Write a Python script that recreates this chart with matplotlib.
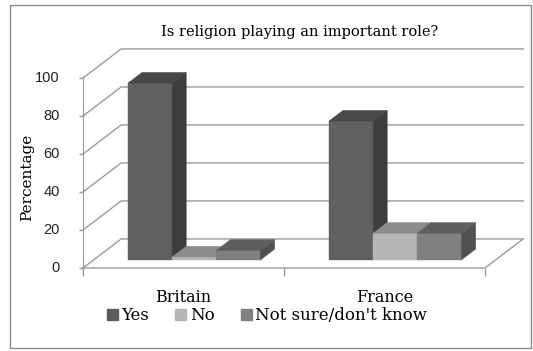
"""Is religion playing an important role? — Excel-style 3D clustered bars"""

import matplotlib
matplotlib.use("Agg")
import matplotlib.pyplot as plt
from matplotlib.patches import Polygon, Rectangle, Patch

# ── Data ────────────────────────────────────────────────────────────────────

countries = ["Britain", "France"]
series = ["Yes", "No", "Not sure/don't know"]
yes_vals = [93, 73]
no_vals = [1.5, 14]
unsure_vals = [5, 14]
y_ticks = [0, 20, 40, 60, 80, 100]

# face colours per series: front, top, side
FACES = [
    ("#606060", "#484848", "#3d3d3d"),
    ("#b5b5b5", "#8c8c8c", "#7c7c7c"),
    ("#808080", "#5e5e5e", "#505050"),
]
LEGEND_COLORS = ["#5c5c5c", "#b5b5b5", "#808080"]
GRID = "#9a9a9a"

# oblique depth of the wall, in data units (x: category, y: percent)
DX, DY = 0.19, 15.3
BAR_D0, BAR_DEPTH = 0.28, 0.37   # bar position inside the depth, as fractions
BAR_W, GAP = 0.22, 0.17

SERIF = "DejaVu Serif"
SANS = "Liberation Sans"

W, H = 533, 351
fig = plt.figure(figsize=(W / 100, H / 100), dpi=100)

# outer chart frame
fig.patches.append(Rectangle((10 / W, 1 - 348 / H), 521 / W, 343 / H,
                             transform=fig.transFigure, fill=False,
                             edgecolor="#8c8c8c", linewidth=1.0))

# front plane of the plot: x 83..485 px, y 268..78 px
AX_W, AX_H = 402, 190
ax = fig.add_axes([83 / W, 1 - 268 / H, AX_W / W, AX_H / H])
ax.set_xlim(0, 2)
ax.set_ylim(0, 100)
for s in ("top", "right", "bottom"):
    ax.spines[s].set_visible(False)
ax.spines["left"].set_color(GRID)
ax.patch.set_visible(False)

# ── walls / gridlines ───────────────────────────────────────────────────────
for v in y_ticks:
    ax.plot([0, DX, 2 + DX], [v, v + DY, v + DY], color=GRID, lw=1.0,
            clip_on=False, zorder=1)
# floor front edge and right edge
ax.plot([0, 2, 2 + DX], [0, 0, DY], color=GRID, lw=1.0, clip_on=False, zorder=1)

# ── bars ────────────────────────────────────────────────────────────────────
values = [yes_vals, no_vals, unsure_vals]
ox, oy = BAR_D0 * DX, BAR_D0 * DY
bx, by = BAR_DEPTH * DX, BAR_DEPTH * DY
for g in range(len(countries)):
    for i, vals in enumerate(values):
        v = vals[g]
        x0 = g + GAP + i * BAR_W + ox
        x1 = x0 + BAR_W
        y0 = oy
        y1 = oy + v
        front, top, side = FACES[i]
        kw = dict(clip_on=False, zorder=3 + g * 3 + i, linewidth=0.3)
        ax.add_patch(Polygon([(x0, y0), (x1, y0), (x1, y1), (x0, y1)],
                             facecolor=front, edgecolor=front, **kw))
        ax.add_patch(Polygon([(x1, y0), (x1 + bx, y0 + by), (x1 + bx, y1 + by),
                              (x1, y1)], facecolor=side, edgecolor=side, **kw))
        ax.add_patch(Polygon([(x0, y1), (x1, y1), (x1 + bx, y1 + by),
                              (x0 + bx, y1 + by)], facecolor=top, edgecolor=top, **kw))

# ── axes ticks / labels ─────────────────────────────────────────────────────
ax.set_yticks(y_ticks)
ax.set_yticklabels([])
ax.tick_params(axis="y", length=3, width=1, color=GRID)
for t in y_ticks:
    ax.text(-23 / AX_W, t, str(t), transform=ax.get_yaxis_transform(),
            ha="right", va="center", fontfamily=SANS, fontsize=10.5,
            color="#222222")

ax.set_xticks([0, 1, 2])
ax.set_xticklabels([])
ax.tick_params(axis="x", length=6, width=1, color=GRID)
for k, name in enumerate(countries):
    ax.text(k + 0.5, -34 / AX_H, name, transform=ax.get_xaxis_transform(),
            ha="center", va="baseline", fontfamily=SERIF, fontsize=11.5)

fig.text(27 / W, 1 - 177 / H, "Percentage", rotation=90, ha="center",
         va="center", fontfamily=SERIF, fontsize=11)

fig.text(300 / W, 1 - 32 / H, "Is religion playing an important role?",
         ha="center", va="center", fontfamily=SERIF, fontsize=10.5)

handles = [Patch(facecolor=c, edgecolor=c) for c in LEGEND_COLORS]
fig.legend(handles, series, loc="center", bbox_to_anchor=(267 / W, 1 - 316 / H),
           ncol=3, frameon=False, prop={"family": SERIF, "size": 12},
           handlelength=0.65, handleheight=0.65, handletextpad=0.2,
           columnspacing=1.6, borderpad=0)

fig.savefig("out.png", dpi=100)
